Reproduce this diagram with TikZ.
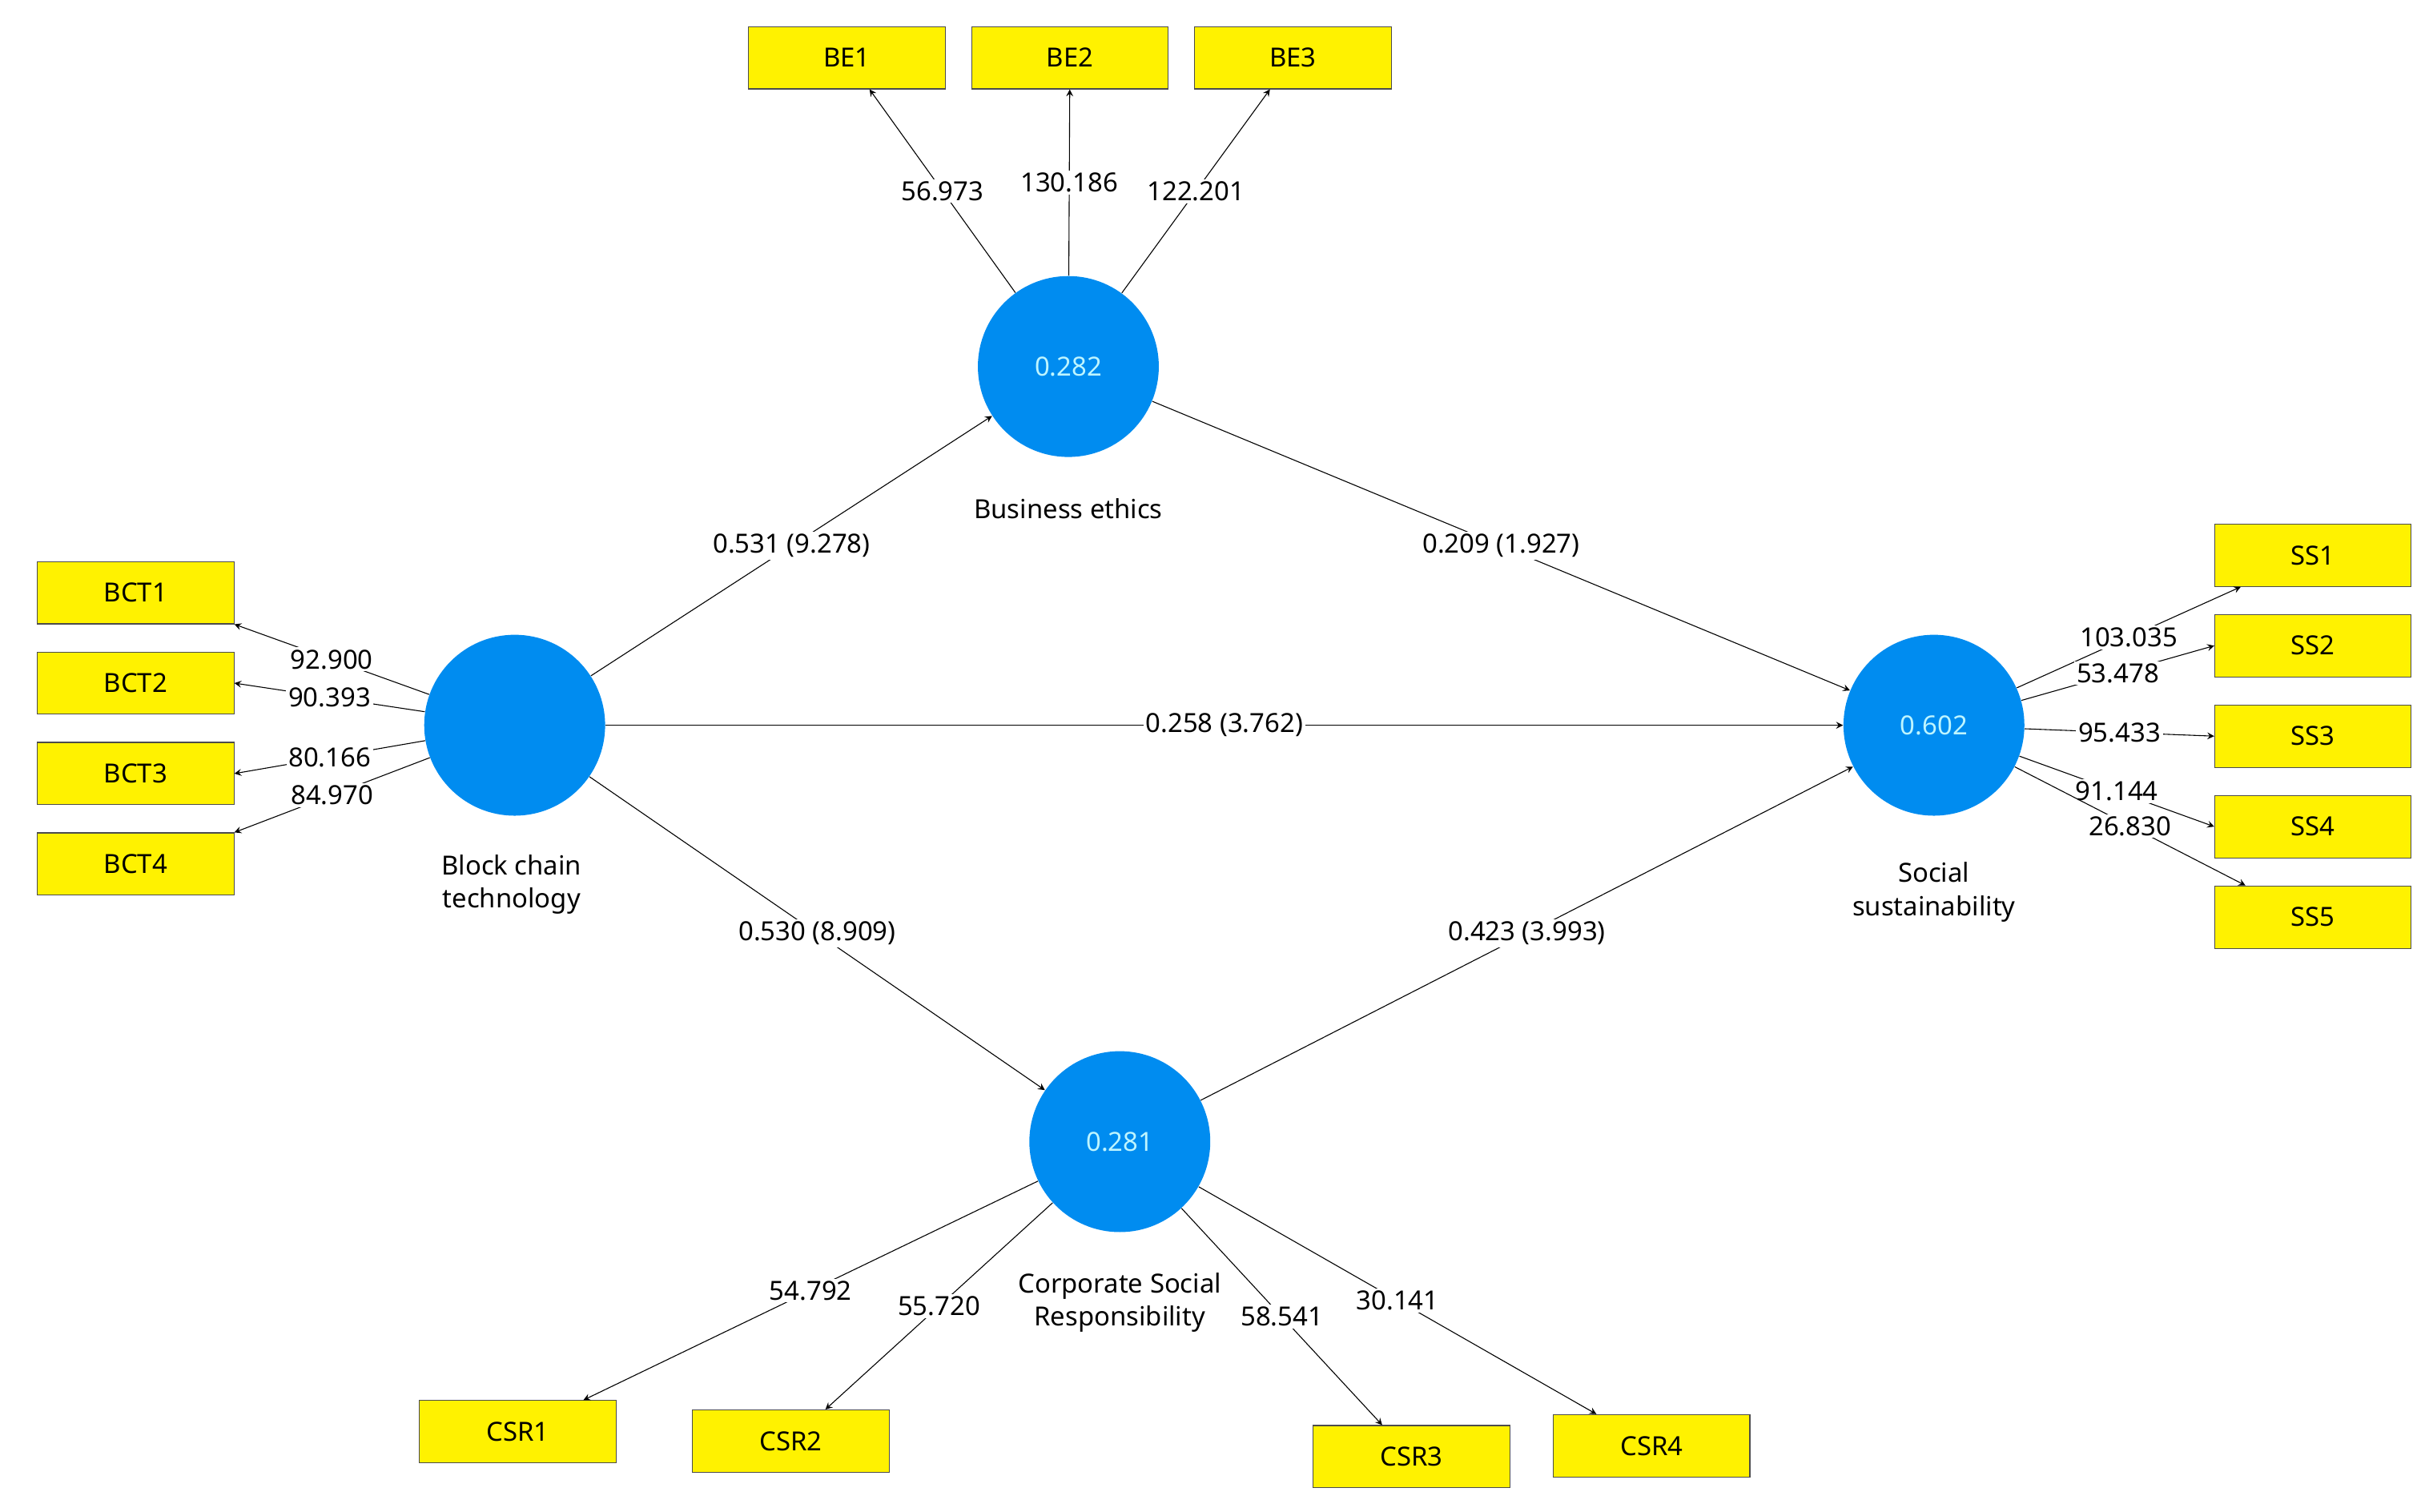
\documentclass[tikz,border=0pt]{standalone}
\usepackage{fontspec}
\setmainfont{Noto Sans}
\definecolor{lvblue}{RGB}{0,140,240}
\definecolor{lvtext}{RGB}{190,245,255}
\tikzstyle{latent}  = [circle, fill=lvblue, minimum size=116*0.025cm, inner sep=0pt, text=lvtext]
\tikzstyle{item}    = [rectangle, draw=black!70, fill=yellow, minimum width=126*0.025cm, minimum height=40*0.025cm]
\tikzstyle{arrow}   = [thin,->,>=stealth]
\tikzstyle{coef}    = [fill=white, inner sep=1pt]
\tikzstyle{caption} = [align=center]
\begin{document}
\begin{tikzpicture}[x=0.025cm, y=-0.025cm, font=\fontsize{12}{15}\selectfont]
\useasboundingbox (0,0) rectangle (1560,969);
\node (be)  [latent] at (685,235) {0.282};
\node (bct) [latent] at (330,465) {};
\node (ss)  [latent] at (1240,465) {0.602};
\node (csr) [latent] at (718,732) {0.281};

\node [caption] at (685,326) {Business ethics};
\node [caption] at (328,567) {Block chain\\technology};
\node [caption] at (1240,572) {Social\\sustainability};
\node [caption] at (718,835) {Corporate Social\\Responsibility};

\node (be1) [item] at (543,37) {BE1};
\node (be2) [item] at (686,37) {BE2};
\node (be3) [item] at (829,37) {BE3};
\foreach \n/\y in {1/380,2/438,3/496,4/554}
  \node (bct\n) [item] at (87,\y) {BCT\n};
\foreach \n/\y in {1/356,2/414,3/472,4/530,5/588}
  \node (ss\n) [item] at (1483,\y) {SS\n};
\node (csr1) [item] at (332,918) {CSR1};
\node (csr2) [item] at (507,924) {CSR2};
\node (csr3) [item] at (905,934) {CSR3};
\node (csr4) [item] at (1059,927) {CSR4};

% outer loadings
\draw [arrow] (be) -- node[coef] {56.973} (be1);
\draw [arrow] (be) -- node[coef] {130.186} (be2);
\draw [arrow] (be) -- node[coef] {122.201} (be3);
\draw [arrow] (bct) -- node[coef] {92.900} (bct1.south east);
\draw [arrow] (bct) -- node[coef] {90.393} (bct2.east);
\draw [arrow] (bct) -- node[coef] {80.166} (bct3.east);
\draw [arrow] (bct) -- node[coef] {84.970} (bct4.north east);
\draw [arrow] (ss) -- node[coef] {103.035} ([xshift=17*0.025cm]ss1.south west);
\draw [arrow] (ss) -- node[coef] {53.478} (ss2.west);
\draw [arrow] (ss) -- node[coef] {95.433} (ss3.west);
\draw [arrow] (ss) -- node[coef] {91.144} (ss4.west);
\draw [arrow] (ss) -- node[coef] {26.830} ([xshift=20*0.025cm]ss5.north west);
\draw [arrow] (csr) -- node[coef] {54.792} (csr1);
\draw [arrow] (csr) -- node[coef] {55.720} (csr2);
\draw [arrow] (csr) -- node[coef] {58.541} (csr3);
\draw [arrow] (csr) -- node[coef] {30.141} (csr4);

% inner paths
\draw [arrow] (bct) -- node[coef] {0.531 (9.278)} (be);
\draw [arrow] (be) -- node[coef] {0.209 (1.927)} (ss);
\draw [arrow] (bct) -- node[coef] {0.258 (3.762)} (ss);
\draw [arrow] (bct) -- node[coef] {0.530 (8.909)} (csr);
\draw [arrow] (csr) -- node[coef] {0.423 (3.993)} (ss);
\end{tikzpicture}
\end{document}
